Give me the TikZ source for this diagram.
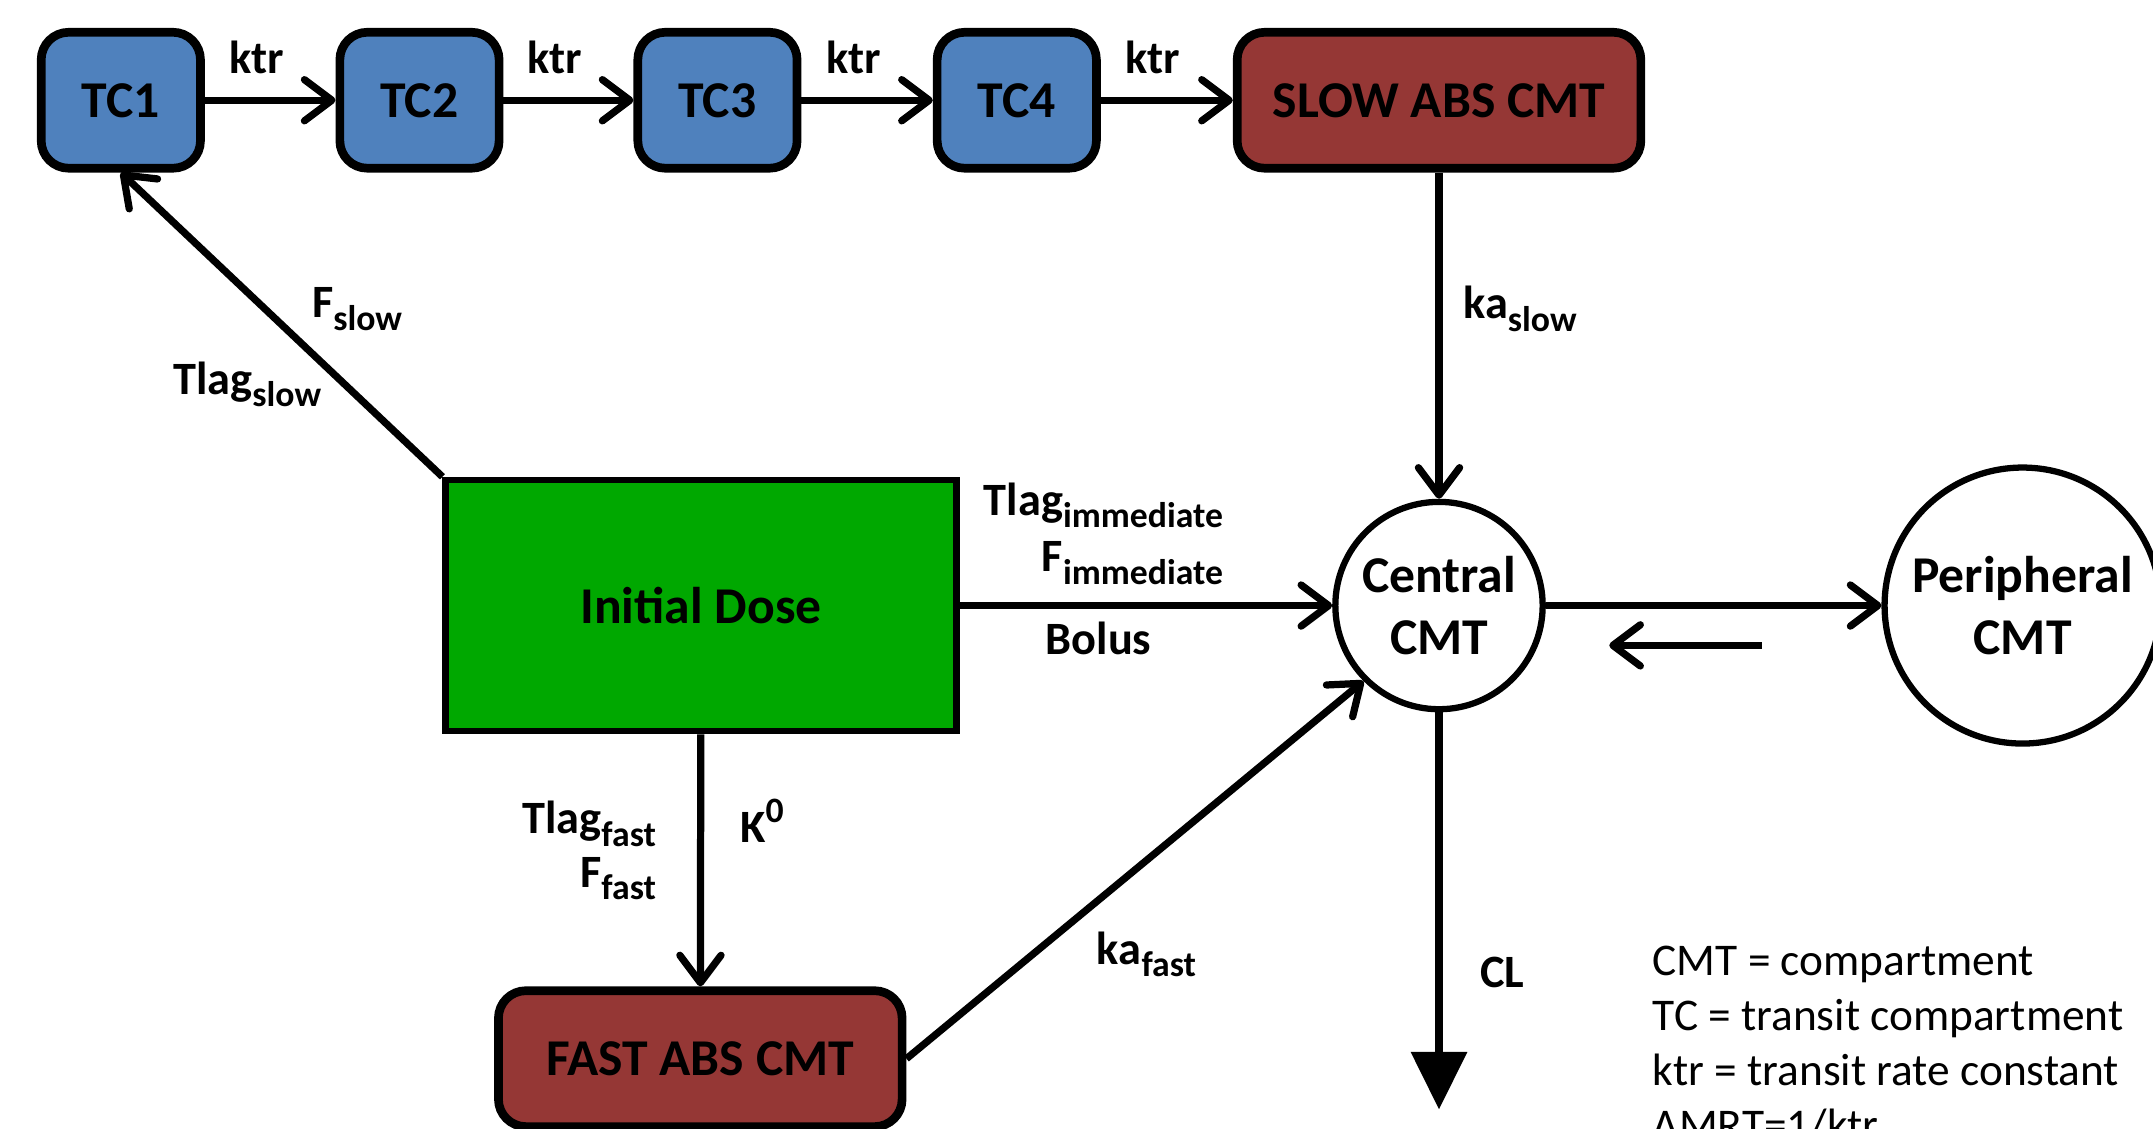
\documentclass[tikz,border=0pt]{standalone}
\usepackage{fontspec}
\setmainfont{Carlito}
\usetikzlibrary{arrows.meta}

\definecolor{tcblue}{HTML}{4F81BD}
\definecolor{absred}{HTML}{953735}
\definecolor{dosegreen}{HTML}{00A800}

\newcommand{\lo}[1]{\raisebox{-0.55ex}{\fontsize{7.4}{8}\selectfont #1}}
\newcommand{\hi}[1]{\raisebox{0.9ex}{\fontsize{7.4}{8}\selectfont #1}}

\begin{document}
\begin{tikzpicture}[
  tcbox/.style={draw, line width=1.8pt, fill=tcblue, rounded corners=0.2cm,
    minimum width=1.16cm, minimum height=0.99cm,
    font=\fontsize{10.7}{13}\selectfont\bfseries},
  absbox/.style={tcbox, fill=absred, minimum width=2.94cm},
  cmt/.style={draw, circle, line width=1.3pt, inner sep=0pt, align=center,
    font=\fontsize{10.7}{13}\selectfont\bfseries},
  flow/.style={line width=1.5pt, -{Straight Barb[length=0.2cm,width=0.3cm,round]}},
  lab/.style={font=\fontsize{9.6}{11}\selectfont\bfseries, inner sep=1pt},
  legtext/.style={font=\fontsize{9.4}{11}\selectfont, inner sep=0pt, anchor=base west}
]
\useasboundingbox (0,0) rectangle (15.68,-8.22);

 \foreach \i/\x in {1/0.88,2/3.055,3/5.225,4/7.405} {
   \node (TC\i) at (\x,-0.73) [tcbox] {TC\i};
 }
 \node (slow) at (10.48,-0.73) [absbox] {SLOW ABS CMT};
 \foreach \a/\b in {TC1/TC2,TC2/TC3,TC3/TC4,TC4/slow} {
   \draw [flow] (\a) -- (\b) node (k\a) [lab, above=0.13cm, midway, xshift=-0.1cm] {ktr};
 }

 \node (dose) at (5.105,-4.41) [draw, line width=1.3pt, fill=dosegreen,
   minimum width=3.72cm, minimum height=1.83cm,
   font=\fontsize{10.7}{13}\selectfont\bfseries] {Initial Dose};
 \node (central) at (10.48,-4.41) [cmt, minimum size=1.51cm] {Central\\CMT};
 \node (peri) at (14.73,-4.41) [cmt, minimum size=2.01cm] {Peripheral\\CMT};
 \node (fast) at (5.10,-7.71) [absbox] {FAST ABS CMT};

 \draw [flow] (dose.north west) -- (TC1.south);
 \node (fslow) at (2.60,-2.25) [lab] {F\lo{slow}};
 \node (tslow) at (1.80,-2.80) [lab] {Tlag\lo{slow}};

 \draw [flow] (dose) -- (central);
 \node (timm) at (8.95,-3.68) [lab, anchor=east] {Tlag\lo{immediate}};
 \node (fimm) at (8.95,-4.10) [lab, anchor=east] {F\lo{immediate}};
 \node (bolus) at (8.00,-4.65) [lab] {Bolus};

 \draw [flow] (slow) -- (central);
 \node (kaslow) at (11.07,-2.25) [lab] {ka\lo{slow}};

 \draw [flow] (dose) -- (fast);
 \node (tfast) at (4.82,-6.00) [lab, anchor=east] {Tlag\lo{fast}};
 \node (ffast) at (4.82,-6.40) [lab, anchor=east] {F\lo{fast}};
 \node (kzero) at (5.55,-5.98) [lab] {K\hi{0}};

 \draw [flow] (fast.east) -- (central.225);
 \node (kafast) at (8.35,-6.95) [lab] {ka\lo{fast}};

 \draw [flow] (central) -- (peri);
 \coordinate (backA) at (12.83,-4.70);
 \coordinate (backB) at (11.72,-4.70);
 \draw [flow] (backA) -- (backB);

 \coordinate (clend) at (10.48,-8.08);
 \draw [line width=1.5pt, -{Triangle[length=0.42cm,width=0.4cm]}] (central) -- (clend);
 \node (cl) at (10.94,-7.08) [lab] {CL};

 \foreach \n/\t in {0/{CMT = compartment},1/{TC = transit compartment},2/{ktr = transit rate constant},3/{AMRT=1/ktr}} {
   \node (leg\n) at (12.03,-7.105-0.4*\n) [legtext] {\t};
 }
\end{tikzpicture}
\end{document}
